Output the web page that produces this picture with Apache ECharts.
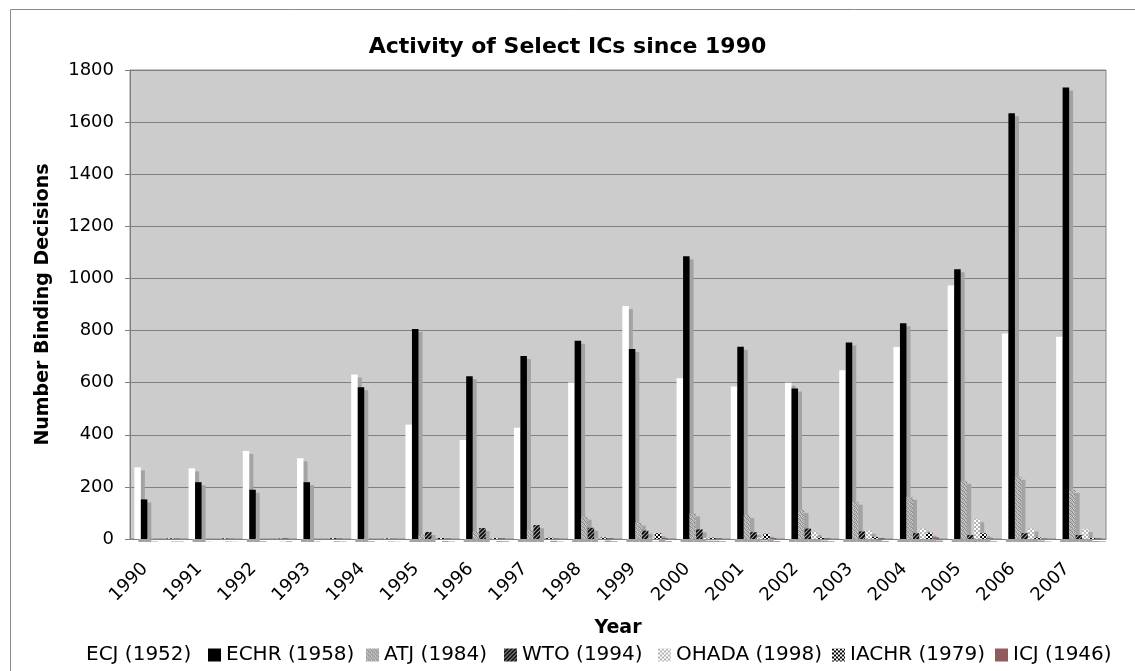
<!DOCTYPE html>
<html>
<head>
<meta charset="utf-8">
<script src="https://cdn.jsdelivr.net/npm/echarts@6/dist/echarts.min.js"></script>
<style>
  html, body { margin: 0; padding: 0; background: #fff; }
  #main { width: 1135px; height: 671px; }
</style>
</head>
<body>
<div id="main"></div>
<script>
// years on the x axis
var years = ['1990','1991','1992','1993','1994','1995','1996','1997','1998','1999',
             '2000','2001','2002','2003','2004','2005','2006','2007'];

// binding decisions per court
var ecj   = [275, 271, 338, 310, 631, 439, 380, 427, 601, 894, 617, 585, 600, 648, 737, 973, 789, 776];
var echr  = [152, 218, 189, 218, 582, 806, 625, 702, 761, 729, 1085, 738, 578, 754, 828, 1035, 1634, 1733];
var atj   = [2, 1, 3, 2, 3, 15, 28, 35, 86, 63, 98, 92, 111, 143, 162, 223, 239, 188];
var wto   = [0, 0, 0, 0, 0, 27, 42, 53, 43, 32, 37, 26, 40, 29, 22, 15, 22, 15];
var ohada = [0, 0, 0, 0, 0, 0, 0, 0, 1, 2, 5, 6, 28, 32, 40, 76, 40, 38];
var iachr = [2, 2, 1, 3, 2, 4, 4, 5, 6, 22, 5, 20, 6, 8, 24, 22, 6, 4];
var icj   = [2, 1, 3, 2, 1, 2, 3, 2, 3, 4, 3, 4, 3, 4, 6, 3, 2, 3];

var seriesNames = ['ECJ (1952)', 'ECHR (1958)', 'ATJ (1984)', 'WTO (1994)',
                   'OHADA (1998)', 'IACHR (1979)', 'ICJ (1946)'];

var font = '"DejaVu Sans", Verdana, sans-serif';

// small canvas fills for the hatched bars
function makePattern(size, draw) {
  var c = document.createElement('canvas');
  c.width = size; c.height = size;
  draw(c.getContext('2d'));
  return { image: c, repeat: 'repeat' };
}

var speckle = makePattern(4, function (ctx) {
  var g = ['#8c8c8c','#c4c4c4','#a4a4a4','#d0d0d0',
           '#b8b8b8','#949494','#cacaca','#9c9c9c',
           '#c8c8c8','#a8a8a8','#888888','#bcbcbc',
           '#9a9a9a','#d2d2d2','#b0b0b0','#909090'];
  for (var i = 0; i < 16; i++) {
    ctx.fillStyle = g[i];
    ctx.fillRect(i % 4, Math.floor(i / 4), 1, 1);
  }
});

var stripes = makePattern(4, function (ctx) {
  ctx.fillStyle = '#9a9a9a';
  ctx.fillRect(0, 0, 4, 4);
  ctx.strokeStyle = '#000';
  ctx.lineWidth = 1.6;
  ctx.beginPath();
  ctx.moveTo(-1, 5); ctx.lineTo(5, -1);
  ctx.moveTo(-1, 1); ctx.lineTo(1, -1);
  ctx.moveTo(3, 5); ctx.lineTo(5, 3);
  ctx.stroke();
});

var lightCheck = makePattern(4, function (ctx) {
  ctx.fillStyle = '#ffffff';
  ctx.fillRect(0, 0, 4, 4);
  ctx.fillStyle = '#b4b4b4';
  ctx.fillRect(0, 0, 2, 2);
  ctx.fillRect(2, 2, 2, 2);
});

var darkCheck = makePattern(4, function (ctx) {
  ctx.fillStyle = '#ffffff';
  ctx.fillRect(0, 0, 4, 4);
  ctx.fillStyle = '#000000';
  ctx.fillRect(0, 0, 2, 2);
  ctx.fillRect(2, 2, 2, 2);
});

var fills = ['#ffffff', '#000000', speckle, stripes, lightCheck, darkCheck, '#8f5b5c'];
var values = [ecj, echr, atj, wto, ohada, iachr, icj];

var series = seriesNames.map(function (name, i) {
  return {
    name: name,
    type: 'bar',
    data: values[i],
    barGap: '0%',
    barCategoryGap: '16%',
    itemStyle: {
      color: fills[i],
      shadowColor: '#a3a3a3',
      shadowBlur: 0,
      shadowOffsetX: 4,
      shadowOffsetY: 3
    }
  };
});

// one legend per entry so the spacing follows the original
var legendLeft = [68, 208, 366, 504, 658, 832, 995];
var legends = seriesNames.map(function (name, i) {
  return {
    data: [name],
    top: 645,
    left: legendLeft[i],
    padding: 0,
    itemWidth: 13,
    itemHeight: 13,
    icon: 'rect',
    textStyle: { fontFamily: font, fontSize: 20, color: '#000' },
    itemStyle: { shadowBlur: 0, shadowOffsetX: 0, shadowOffsetY: 0, shadowColor: 'rgba(0,0,0,0)' }
  };
});

var chart = echarts.init(document.getElementById('main'));
chart.setOption({
  animation: false,
  backgroundColor: '#ffffff',
  title: {
    text: 'Activity of Select ICs since 1990',
    left: 'center',
    top: 31,
    textStyle: { fontFamily: font, fontSize: 22, fontWeight: 'bold', color: '#000' }
  },
  grid: {
    left: 130, right: 29, top: 70, bottom: 132,
    show: true,
    backgroundColor: '#cccccc',
    borderColor: '#8a8a8a',
    borderWidth: 1
  },
  legend: legends,
  xAxis: {
    type: 'category',
    data: years,
    name: 'Year',
    nameLocation: 'middle',
    nameGap: 80,
    nameTextStyle: { fontFamily: font, fontSize: 19, fontWeight: 'bold', color: '#000' },
    axisLine: { lineStyle: { color: '#808080', width: 1 } },
    axisTick: { length: 5, lineStyle: { color: '#808080' } },
    axisLabel: {
      rotate: 45,
      margin: 15,
      padding: [0, 17, 0, 0],
      interval: 0,
      fontFamily: font,
      fontSize: 18,
      color: '#000'
    }
  },
  yAxis: {
    type: 'value',
    min: 0,
    max: 1800,
    interval: 200,
    name: 'Number Binding Decisions',
    nameLocation: 'middle',
    nameGap: 77,
    nameTextStyle: { fontFamily: font, fontSize: 19, fontWeight: 'bold', color: '#000' },
    axisLine: { show: true, lineStyle: { color: '#808080' } },
    axisTick: { show: true, length: 5, lineStyle: { color: '#808080' } },
    axisLabel: {
      margin: 16, fontFamily: font, fontSize: 18, color: '#000',
      formatter: function (v) { return String(v); }
    },
    splitLine: { lineStyle: { color: '#808080', width: 1 } }
  },
  graphic: [{
    type: 'rect',
    left: 8, top: 7,
    shape: { width: 1140, height: 680 },
    style: { fill: 'none', stroke: '#8a8a8a', lineWidth: 1 },
    silent: true
  }],
  series: series
});
</script>
</body>
</html>
